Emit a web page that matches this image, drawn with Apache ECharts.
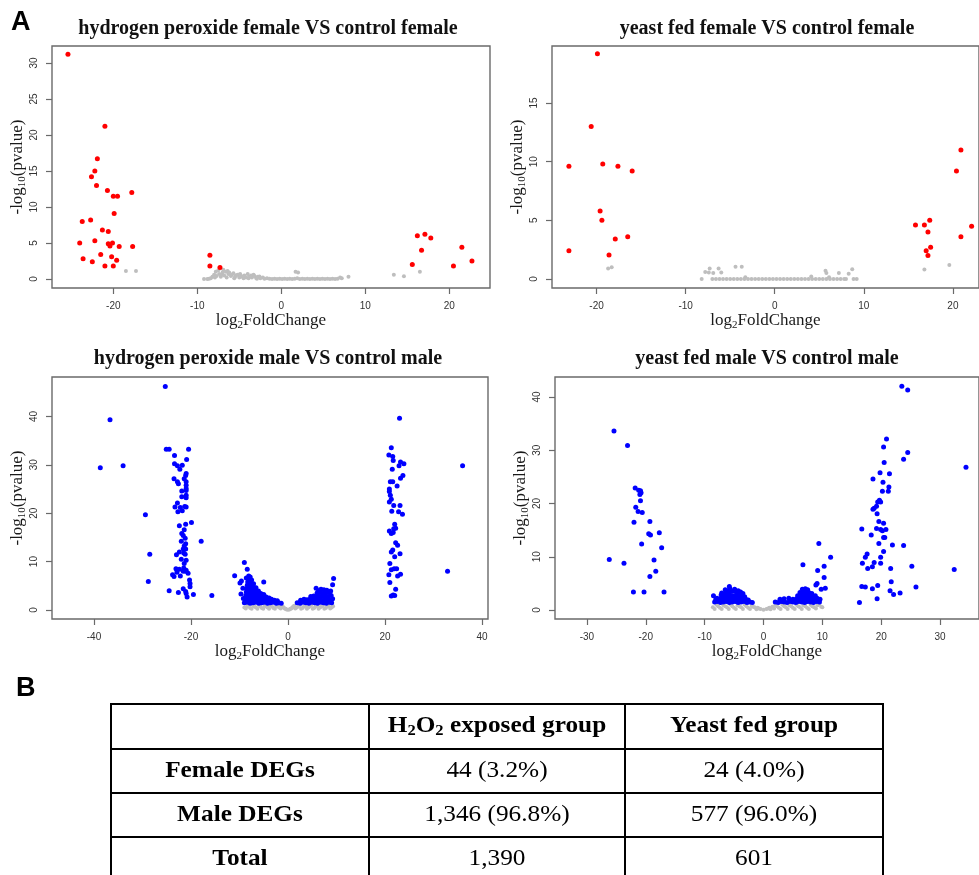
<!DOCTYPE html>
<html><head><meta charset="utf-8">
<script src="https://cdn.jsdelivr.net/npm/echarts@6/dist/echarts.min.js"></script>
<style>html,body{margin:0;padding:0;background:#fff}#c{width:979px;height:875px}</style>
</head><body><div id="c"></div>
<script>
// ---------- DATA ----------
const panelTitles = ['hydrogen peroxide female VS control female','yeast fed female VS control female','hydrogen peroxide male VS control male','yeast fed male VS control male'];
const xTickValues = [[-20,-10,0,10,20],[-20,-10,0,10,20],[-40,-20,0,20,40],[-30,-20,-10,0,10,20,30]];
const yTickValues = [[0,5,10,15,20,25,30],[0,5,10,15],[0,10,20,30,40],[0,10,20,30,40]];
const xRanges = [[-27.3,24.85],[-25,22.93],[-48.66,41.24],[-35.42,36.61]];
const yRanges = [[-1.25,32.36],[-0.77,19.86],[-1.86,48.14],[-1.69,43.76]];
const xAxisTitle = 'log2FoldChange';
const yAxisTitle = '-log10(pvalue)';

// Panel 1: hydrogen peroxide female
const p1Red = [[-25.4,31.2],[-21.0,21.2],[-21.9,16.7],[-22.2,15.0],[-22.6,14.2],[-22.0,13.0],[-20.7,12.3],[-20.0,11.5],[-19.5,11.5],[-17.8,12.0],[-19.9,9.1],[-23.7,8.0],[-22.7,8.2],[-21.3,6.8],[-20.6,6.6],[-24.0,5.0],[-22.2,5.3],[-20.6,4.9],[-20.1,5.0],[-20.4,4.6],[-19.3,4.5],[-17.7,4.5],[-23.6,2.8],[-22.5,2.4],[-21.5,3.4],[-20.2,3.1],[-19.6,2.6],[-21.0,1.8],[-20.0,1.8],[-8.5,3.3],[-8.5,1.8],[-7.3,1.6],[16.2,6.0],[17.1,6.2],[17.8,5.7],[16.7,4.0],[15.6,2.0],[21.5,4.4],[22.7,2.5],[20.5,1.8]];
const p1Gray = [[-18.5,1.1],[-17.3,1.1],[13.4,0.6],[14.6,0.37],[16.5,1.0],[8.0,0.3],
[-9.2,0],[-8.8,0],[-8.6,0.02],[-8.4,0.1],[-8.2,0.3],[-8.0,0.6],[-7.9,0.2],[-7.8,1.0],[-7.7,0.4],[-7.5,1.2],[-7.4,0.7],[-7.2,0.3],[-7.1,0.6],[-7.0,0.9],[-6.9,1.3],[-6.8,0.5],[-6.6,1.0],[-6.5,0.2],[-6.4,1.1],[-6.3,0.7],[-6.2,0.9],[-6.0,0.4],[-5.9,0.6],[-5.7,0.8],[-5.6,0.1],[-5.5,0.3],[-5.4,0.5],[-5.2,0.6],[-5.0,0.2],[-4.9,0.7],[-4.8,0.4],[-4.6,0.3],[-4.5,0.1],[-4.4,0.5],[-4.2,0.2],[-4.0,0.7],[-3.9,0.1],[-3.8,0.3],[-3.6,0.5],[-3.5,0.2],[-3.3,0.6],[-3.2,0.4],[-3.0,0.15],[-2.9,0.05],[-2.8,0.3],[-2.6,0.35],[-2.5,0.1],[-2.2,0.2],[-2.0,0.05],[-1.7,0.1],[-1.4,0.05],[-1.1,0],[-0.8,0.03],[-0.5,0],[-0.2,0.02],[0.1,0],[0.4,0.02],[0.7,0],[1.0,0.03],[1.3,0],[1.6,0.05],[1.7,1.0],[1.9,0.1],[2.0,0.9],[2.2,0],[2.5,0.03],[2.8,0],[3.1,0.02],[3.4,0],[3.7,0.04],[4.0,0],[4.3,0.02],[4.6,0],[4.9,0.05],[5.2,0],[5.5,0.02],[5.8,0],[6.1,0.03],[6.4,0],[6.7,0.05],[7.0,0.2],[7.2,0.1]];

// Panel 2: yeast fed female
const p2Red = [[-19.9,19.2],[-20.6,13.0],[-23.1,9.6],[-19.3,9.8],[-17.6,9.6],[-16.0,9.2],[-19.6,5.8],[-19.4,5.0],[-17.9,3.4],[-16.5,3.6],[-23.1,2.4],[-18.6,2.05],[20.9,11.0],[20.4,9.2],[15.8,4.6],[16.8,4.6],[17.4,5.0],[17.2,4.0],[17.5,2.7],[17.0,2.4],[17.2,2.0],[20.9,3.6],[22.1,4.5]];
const p2Gray = [[-18.7,0.9],[-18.3,1.0],[16.8,0.8],[19.6,1.2],[-8.2,0],[-7.8,0.6],[-7.4,0.55],[-7.3,0.9],[-6.9,0.5],[-6.3,0.9],[-6.0,0.55],[-4.4,1.05],[-3.7,1.05],[-3.3,0.15],[4.1,0.2],[5.7,0.7],[5.8,0.5],[6.1,0.15],[7.2,0.5],[8.3,0.45],[8.7,0.83],[8.85,0],[9.2,0],
[-7.0,0],[-6.6,0],[-6.2,0],[-5.8,0],[-5.4,0],[-5.0,0],[-4.6,0],[-4.2,0],[-3.8,0],[-3.4,0],[-3.0,0],[-2.6,0],[-2.2,0],[-1.8,0],[-1.4,0],[-1.0,0],[-0.6,0],[-0.2,0],[0.2,0],[0.6,0],[1.0,0],[1.4,0],[1.8,0],[2.2,0],[2.6,0],[3.0,0],[3.4,0],[3.8,0],[4.2,0],[4.6,0],[5.0,0],[5.4,0],[5.8,0],[6.2,0],[6.6,0],[7.0,0],[7.4,0],[7.8,0],[8.0,0]];

// Panel 3: hydrogen peroxide male
const p3BlueOuter = [[-25.3,46.2],[-36.7,39.3],[-38.7,29.4],[-34.0,29.8],[-29.4,19.7],[-28.5,11.5],[-28.8,5.9],[-17.9,14.2],[-15.7,3.0],[-19.9,18.1],[-20.5,33.2],[23.0,39.6],[36.0,29.8],[32.9,8.0]];
const p3BlueLeftCol = [[-25.1,33.2],[-24.5,33.2],[-23.4,31.9],[-20.9,31.1],[-23.4,30.2],[-22.8,29.8],[-21.8,29.9],[-22.3,29.1],[-21.0,28.2],[-21.1,27.8],[-21.4,27.1],[-23.5,27.1],[-22.8,26.5],[-22.6,26.1],[-21.0,26.5],[-21.0,25.8],[-21.0,25.1],[-21.9,24.6],[-21.0,24.7],[-21.0,23.7],[-21.0,23.2],[-21.9,23.4],[-22.8,22.1],[-23.3,21.3],[-22.2,21.2],[-21.3,21.4],[-21.0,21.3],[-22.7,20.3],[-21.8,20.5],[-21.1,17.7],[-22.4,17.4],[-21.4,16.6],[-21.9,15.8],[-21.6,15.4],[-21.2,14.8],[-22.0,14.2],[-21.1,13.7],[-21.4,13.2],[-21.6,12.6],[-21.1,12.6],[-22.4,12.0],[-23.0,11.4],[-21.5,11.8],[-21.2,11.5],[-22.0,10.5],[-21.0,10.3],[-21.4,9.6],[-23.1,8.5],[-22.4,8.4],[-21.5,8.7],[-21.0,8.2],[-22.9,7.8],[-23.8,7.3],[-23.5,6.9],[-22.2,7.0],[-21.6,8.0],[-20.6,7.6],[-21.1,8.0],[-20.3,6.2],[-20.2,5.5],[-20.2,4.8],[-24.5,4.0],[-22.6,3.6],[-21.6,4.4],[-21.1,3.8],[-19.5,3.2],[-20.8,2.7],[-21.0,3.4]];
const p3BlueRightCol = [[21.3,33.5],[20.8,32.0],[21.6,31.7],[21.7,30.9],[23.2,30.6],[23.9,30.2],[22.9,29.8],[21.5,29.1],[23.7,27.8],[23.2,27.2],[21.1,26.5],[21.6,26.5],[22.5,25.6],[20.9,25.0],[20.9,24.5],[21.1,23.7],[21.3,22.9],[20.9,22.3],[21.8,21.6],[23.1,21.6],[21.4,20.4],[22.8,20.3],[23.6,19.8],[22.0,17.7],[21.8,16.8],[20.9,16.3],[21.3,15.8],[21.7,16.0],[22.2,16.9],[22.2,13.9],[22.6,13.4],[23.1,11.6],[21.6,12.4],[21.3,12.0],[22.0,11.0],[21.0,9.6],[21.9,8.5],[21.3,8.3],[22.4,8.5],[23.2,7.4],[22.6,7.0],[20.8,7.3],[21.0,5.7],[22.2,4.3],[21.7,3.1],[21.3,2.9],[22.0,3.0]];
const p3BlueLeftCore = [[-11.0,7.1],[-9.0,9.8],[-8.4,8.4],[-5.0,5.8],[-9.6,6.0],[-9.9,5.6],[-8.1,7.0],[-7.8,6.8],[-9.3,4.5],[-9.7,3.3],[-9.2,2.4],
[-9.0,1.5],[-8.4,1.6],[-7.8,1.4],[-7.2,1.5],[-6.6,1.6],[-6.0,1.4],[-5.4,1.5],[-4.8,1.6],[-4.2,1.4],[-3.6,1.5],[-3.0,1.6],[-2.4,1.4],[-1.9,1.5],[-1.4,1.4],
[-8.8,2.2],[-8.2,2.3],[-7.6,2.1],[-7.0,2.2],[-6.4,2.3],[-5.8,2.1],[-5.2,2.2],[-4.6,2.3],[-4.0,2.1],[-3.4,2.2],[-2.8,2.0],[-2.2,1.9],
[-8.7,3.0],[-8.1,2.9],[-7.5,2.8],[-6.9,3.0],[-6.3,2.9],[-5.7,2.8],[-5.1,3.0],[-4.5,2.7],[-3.9,2.5],
[-8.6,3.7],[-8.0,3.6],[-7.4,3.5],[-6.8,3.7],[-6.2,3.6],[-5.6,3.4],[-5.0,3.2],
[-8.5,4.4],[-7.9,4.3],[-7.3,4.2],[-6.7,4.1],[-6.1,3.9],
[-8.4,5.1],[-7.8,5.0],[-7.2,4.9],[-6.6,4.6],
[-8.3,5.8],[-7.7,5.7],[-7.1,5.4],[-8.0,6.4],[-7.5,6.2],[-8.6,6.6]];
const p3BlueRightCore = [[1.9,1.5],[2.5,1.4],[3.1,1.6],[3.7,1.5],[4.3,1.4],[4.9,1.6],[5.5,1.5],[6.1,1.4],[6.7,1.6],[7.3,1.5],[7.9,1.4],[8.5,1.6],[9.0,1.5],
[2.6,2.0],[3.3,2.2],[3.9,2.1],[4.5,2.2],[5.1,2.0],[5.7,2.1],[6.3,2.2],[6.9,2.0],[7.5,2.1],[8.1,2.2],[8.7,2.0],[9.2,2.3],
[4.7,2.8],[5.3,2.9],[5.9,2.7],[6.5,2.8],[7.1,2.9],[7.7,2.7],[8.3,2.8],[8.9,3.0],
[6.0,3.5],[6.6,3.6],[7.2,3.4],[7.8,3.5],[8.5,3.6],
[6.8,4.3],[7.4,4.2],[8.0,4.1],[6.3,4.0],[8.8,3.9],[5.8,4.5],[9.2,5.2],[9.4,6.5]];
const p3Gray = [[-9.0,0.5],[-8.4,0.9],[-7.8,0.4],[-7.2,1.0],[-6.6,0.5],[-6.0,1.1],[-5.4,0.4],[-4.8,0.9],[-4.2,0.5],[-3.6,1.0],[-3.0,0.4],[-2.4,0.9],[-1.8,0.5],[-1.3,0.9],[-0.9,0.5],[-0.5,0.25],[0.0,0.05],[0.5,0.25],[0.9,0.5],[1.3,0.9],[1.8,0.5],[2.4,1.0],[3.0,0.4],[3.6,0.9],[4.2,0.5],[4.8,1.0],[5.4,0.4],[6.0,0.9],[6.6,0.5],[7.2,1.0],[7.8,0.4],[8.4,0.9],[9.0,0.5],
[-8.7,0.3],[-8.1,0.7],[-7.5,0.25],[-6.9,0.7],[-6.3,0.25],[-5.7,0.7],[-5.1,0.25],[-4.5,0.7],[-3.9,0.25],[-3.3,0.7],[-2.7,0.25],[-2.1,0.7],[-1.5,0.3],[-1.1,0.7],[-0.7,0.3],[-0.3,0.1],[0.3,0.1],[0.7,0.3],[1.1,0.7],[1.5,0.3],[2.1,0.7],[2.7,0.25],[3.3,0.7],[3.9,0.25],[4.5,0.7],[5.1,0.25],[5.7,0.7],[6.3,0.25],[6.9,0.7],[7.5,0.25],[8.1,0.7],[8.7,0.3],[9.3,0.8]];

// Panel 4: yeast fed male
const p4BlueLeftCol = [[-25.4,33.6],[-23.1,30.9],[-21.8,22.9],[-21.2,22.5],[-20.9,22.4],[-20.8,22.0],[-21.0,21.7],[-20.9,20.5],[-21.7,19.3],[-21.3,18.5],[-20.6,18.3],[-22.0,16.5],[-19.3,16.6],[-19.5,14.3],[-19.2,14.1],[-17.7,14.5],[-20.7,12.4],[-17.3,11.7],[-18.6,9.4],[-18.3,7.3],[-19.3,6.3],[-26.2,9.5],[-23.7,8.8],[-22.1,3.4],[-20.3,3.4],[-16.9,3.4]];
const p4BlueRightCol = [[23.5,42.0],[24.5,41.3],[20.9,32.1],[20.4,30.6],[24.5,29.6],[23.8,28.3],[20.5,27.7],[34.4,26.8],[19.8,25.8],[21.4,25.6],[18.6,24.6],[20.3,24.0],[21.3,23.1],[21.2,22.3],[20.2,22.3],[19.7,20.6],[19.4,20.3],[19.9,20.3],[19.2,19.5],[18.8,19.1],[18.6,18.9],[19.3,18.1],[19.6,16.6],[20.4,16.3],[19.2,15.3],[19.9,15.1],[20.8,15.1],[20.2,14.9],[16.7,15.2],[18.3,14.1],[20.4,13.6],[20.6,13.6],[19.6,12.5],[21.9,12.2],[23.8,12.1],[20.4,11.0],[17.6,10.5],[17.3,9.9],[19.9,9.9],[18.8,8.9],[19.9,8.8],[16.8,8.8],[17.7,7.8],[18.5,8.1],[21.6,7.8],[25.2,8.2],[32.4,7.6],[25.9,4.3],[16.7,4.4],[17.3,4.3],[18.5,4.0],[19.4,4.6],[21.7,5.3],[21.5,3.6],[22.1,2.9],[23.2,3.2],[19.3,2.1],[16.3,1.4]];
const p4BlueMid = [[11.4,9.9],[9.4,12.5],[6.7,8.5],[10.3,8.2],[9.2,7.4],[10.3,6.1],[9.1,5.0],[8.9,4.7],[10.5,4.1],[9.8,3.9]];
const p4BlueLeftCore = [[-8.5,2.7],[-8.1,2.0],[-8.3,1.5],[-7.8,1.6],[-7.3,1.4],[-6.8,1.5],[-6.3,1.6],[-5.8,1.4],[-5.3,1.5],[-4.8,1.6],[-4.3,1.4],[-3.8,1.5],[-3.3,1.6],[-2.8,1.4],[-2.3,1.5],[-1.9,1.4],
[-7.9,2.2],[-7.5,2.0],[-7.0,2.1],[-6.5,2.2],[-6.0,2.0],[-5.5,2.1],[-5.0,2.2],[-4.5,2.0],[-4.0,2.1],[-3.5,2.2],[-3.0,2.0],[-2.6,1.9],
[-7.2,2.8],[-6.7,2.7],[-6.2,2.6],[-5.7,2.8],[-5.2,2.7],[-4.7,2.6],[-4.2,2.8],[-3.7,2.7],[-3.2,2.5],
[-7.1,3.2],[-6.4,3.4],[-5.9,3.3],[-5.3,3.5],[-4.6,3.3],[-3.9,3.4],[-3.5,3.1],
[-6.5,3.8],[-5.7,4.0],[-4.9,3.9],[-5.8,4.4],[-6.2,3.6],[-4.3,3.6]];
const p4BlueRightCore = [[2.0,1.5],[2.5,1.4],[3.0,1.6],[3.5,1.5],[4.0,1.4],[4.5,1.6],[5.0,1.5],[5.5,1.4],[6.0,1.6],[6.5,1.5],[7.0,1.4],[7.5,1.6],[8.0,1.5],[8.5,1.4],[9.0,1.6],[9.5,1.5],
[2.8,2.0],[3.5,2.1],[4.3,2.2],[5.0,2.0],[5.6,2.1],[6.1,2.2],[6.6,2.0],[7.1,2.1],[7.6,2.2],[8.1,2.0],[8.6,2.1],[9.1,2.2],[9.6,2.0],
[5.8,2.7],[6.3,2.8],[6.8,2.6],[7.3,2.7],[7.8,2.8],[8.3,2.6],[8.8,2.7],
[6.2,3.3],[6.7,3.4],[7.2,3.2],[7.7,3.3],[8.2,3.1],
[6.6,3.9],[7.1,4.0],[7.5,3.8]];
const p4Gray = [[-8.6,0.5],[-8.0,1.0],[-7.4,0.4],[-6.8,0.9],[-6.2,0.5],[-5.6,1.0],[-5.0,0.4],[-4.4,0.9],[-3.8,0.5],[-3.2,1.0],[-2.6,0.4],[-2.0,0.8],[-1.5,0.5],[-1.0,0.4],[-0.5,0.2],[0.0,0.05],[0.5,0.2],[1.0,0.4],[1.5,0.6],[2.0,0.9],[2.6,0.4],[3.2,1.0],[3.8,0.5],[4.4,0.9],[5.0,0.4],[5.6,1.0],[6.2,0.5],[6.8,0.9],[7.4,0.4],[8.0,1.0],[8.6,0.5],[9.2,0.9],[9.8,0.6],
[-8.3,0.2],[-7.7,0.7],[-7.1,0.2],[-6.5,0.7],[-5.9,0.2],[-5.3,0.7],[-4.7,0.2],[-4.1,0.7],[-3.5,0.2],[-2.9,0.7],[-2.3,0.2],[-1.8,0.6],[-1.2,0.15],[-0.8,0.3],[0.8,0.3],[1.2,0.15],[1.8,0.3],[2.3,0.7],[2.9,0.2],[3.5,0.7],[4.1,0.2],[4.7,0.7],[5.3,0.2],[5.9,0.7],[6.5,0.2],[7.1,0.7],[7.7,0.2],[8.3,0.7],[8.9,0.3],[9.5,1.2],[10.0,0.5]];

// Table B
const tableHeader = ['', 'H2O2 exposed group', 'Yeast fed group'];
const tableRowLabels = ['Female DEGs', 'Male DEGs', 'Total'];
const tableH2O2 = ['44 (3.2%)', '1,346 (96.8%)', '1,390'];
const tableYeast = ['24 (4.0%)', '577 (96.0%)', '601'];
const panelLetters = ['A', 'B'];

// ---------- CHART ----------
const chart = echarts.init(document.getElementById('c'), null, {renderer: 'canvas'});
const gridBoxes = [
  {left: 52, top: 46, width: 438, height: 242},
  {left: 552, top: 46, width: 428, height: 242},
  {left: 52, top: 377, width: 436, height: 242},
  {left: 555, top: 377, width: 425, height: 242}
];
const serif = 'Liberation Serif, Times New Roman, serif';
const sans = 'Liberation Sans, Arial, sans-serif';
const boxColor = '#6a6a6a';
const nameRich = {
  n: {fontSize: 17, fontFamily: serif, color: '#1a1a1a'},
  s: {fontSize: 11, fontFamily: serif, color: '#1a1a1a', padding: [9, 0, 0, 0]}
};
function subName(str, subDigits) {
  const i = str.indexOf(subDigits);
  return '{n|' + str.slice(0, i) + '}{s|' + subDigits + '}{n|' + str.slice(i + subDigits.length) + '}';
}
const grid = gridBoxes.map(g => Object.assign({show: true, borderColor: boxColor, borderWidth: 1.4, backgroundColor: '#fff'}, g));
const xAxis = gridBoxes.map((g, i) => ({
  type: 'value', gridIndex: i, min: xRanges[i][0], max: xRanges[i][1], position: 'bottom',
  axisLine: {show: false, onZero: false}, splitLine: {show: false},
  axisTick: {show: true, customValues: xTickValues[i], length: 6, lineStyle: {color: boxColor, width: 1.2}},
  axisLabel: {customValues: xTickValues[i], fontSize: 10, fontFamily: sans, color: '#333', margin: 13},
  name: subName(xAxisTitle, '2'), nameLocation: 'middle', nameGap: 23,
  nameTextStyle: {rich: nameRich}
}));
const yAxis = gridBoxes.map((g, i) => ({
  type: 'value', gridIndex: i, min: yRanges[i][0], max: yRanges[i][1], position: 'left',
  axisLine: {show: false, onZero: false}, splitLine: {show: false},
  axisTick: {show: true, customValues: yTickValues[i], length: 6, lineStyle: {color: boxColor, width: 1.2}},
  axisLabel: {customValues: yTickValues[i], fontSize: 10, fontFamily: sans, color: '#333', rotate: 90, margin: 13},
  name: subName(yAxisTitle, '10'), nameLocation: 'middle', nameGap: 24,
  nameTextStyle: {rich: nameRich}
}));
function sc(data, i, color, size, z) {
  return {type: 'scatter', xAxisIndex: i, yAxisIndex: i, data: data, symbolSize: size,
    itemStyle: {color: color, opacity: 1}, silent: true, z: z, animation: false};
}
const RED = '#ff0000', BLUE = '#0000ff', GRAY = '#bebebe';
const series = [
  sc(p1Gray, 0, GRAY, 4, 2), sc(p1Red, 0, RED, 5, 3),
  sc(p2Gray, 1, GRAY, 4, 2), sc(p2Red, 1, RED, 5, 3),
  sc(p3Gray, 2, GRAY, 4, 2),
  sc(p3BlueLeftCore, 2, BLUE, 5, 3), sc(p3BlueRightCore, 2, BLUE, 5, 3),
  sc(p3BlueLeftCol, 2, BLUE, 5, 3), sc(p3BlueRightCol, 2, BLUE, 5, 3), sc(p3BlueOuter, 2, BLUE, 5, 3),
  sc(p4Gray, 3, GRAY, 4, 2),
  sc(p4BlueLeftCore, 3, BLUE, 5, 3), sc(p4BlueRightCore, 3, BLUE, 5, 3),
  sc(p4BlueLeftCol, 3, BLUE, 5, 3), sc(p4BlueRightCol, 3, BLUE, 5, 3), sc(p4BlueMid, 3, BLUE, 5, 3)
];

// graphic: titles, letters, table
const graphics = [];
const titlePos = [[268, 29], [767, 29], [268, 359], [767, 359]];
panelTitles.forEach((t, i) => {
  graphics.push({type: 'text', x: titlePos[i][0], y: titlePos[i][1], silent: true,
    style: {text: t, fontSize: 20, fontWeight: 'bold', fontFamily: serif, fill: '#111',
      align: 'center', verticalAlign: 'middle', textAlign: 'center', textVerticalAlign: 'middle'}});
});
const letterPos = [[11, 23], [16, 689]];
panelLetters.forEach((l, i) => {
  graphics.push({type: 'text', x: letterPos[i][0], y: letterPos[i][1], silent: true,
    style: {text: l, fontSize: 27, fontWeight: 'bold', fontFamily: sans, fill: '#000',
      align: 'left', verticalAlign: 'middle', textAlign: 'left', textVerticalAlign: 'middle'}});
});
// table lines
const colX = [111, 369, 625, 883];
const rowY = [704, 749, 793, 837, 881];
rowY.forEach(y => graphics.push({type: 'line', silent: true, shape: {x1: colX[0] - 1, y1: y, x2: colX[3] + 1, y2: y}, style: {stroke: '#000', lineWidth: 2}}));
colX.forEach(x => graphics.push({type: 'line', silent: true, shape: {x1: x, y1: rowY[0], x2: x, y2: 880}, style: {stroke: '#000', lineWidth: 2}}));
const cellCx = [(colX[0] + colX[1]) / 2, (colX[1] + colX[2]) / 2, (colX[2] + colX[3]) / 2];
const cellCy = [726, 771, 815, 859];
const cellRich = {
  b: {fontSize: 23, fontWeight: 'bold', fontFamily: serif, fill: '#000', color: '#000'},
  bs: {fontSize: 15, fontWeight: 'bold', fontFamily: serif, fill: '#000', color: '#000', padding: [11, 0, 0, 0]}
};
function cellText(x, y, txt, bold, rich) {
  graphics.push({type: 'text', x: x, y: y, scaleX: 1.1, silent: true,
    style: {text: txt, rich: rich, fontSize: 23, fontWeight: bold ? 'bold' : 'normal', fontFamily: serif, fill: '#000',
      align: 'center', verticalAlign: 'middle', textAlign: 'center', textVerticalAlign: 'middle'}});
}
// header
cellText(cellCx[1], cellCy[0], '{b|H}{bs|2}{b|O}{bs|2}{b| exposed group}', true, cellRich);
cellText(cellCx[2], cellCy[0], tableHeader[2], true);
tableRowLabels.forEach((lab, r) => {
  cellText(cellCx[0], cellCy[r + 1], lab, true);
  cellText(cellCx[1], cellCy[r + 1], tableH2O2[r], false);
  cellText(cellCx[2], cellCy[r + 1], tableYeast[r], false);
});

chart.setOption({
  animation: false,
  backgroundColor: '#fff',
  grid: grid, xAxis: xAxis, yAxis: yAxis, series: series,
  graphic: {elements: graphics}
});
</script>
</body></html>
